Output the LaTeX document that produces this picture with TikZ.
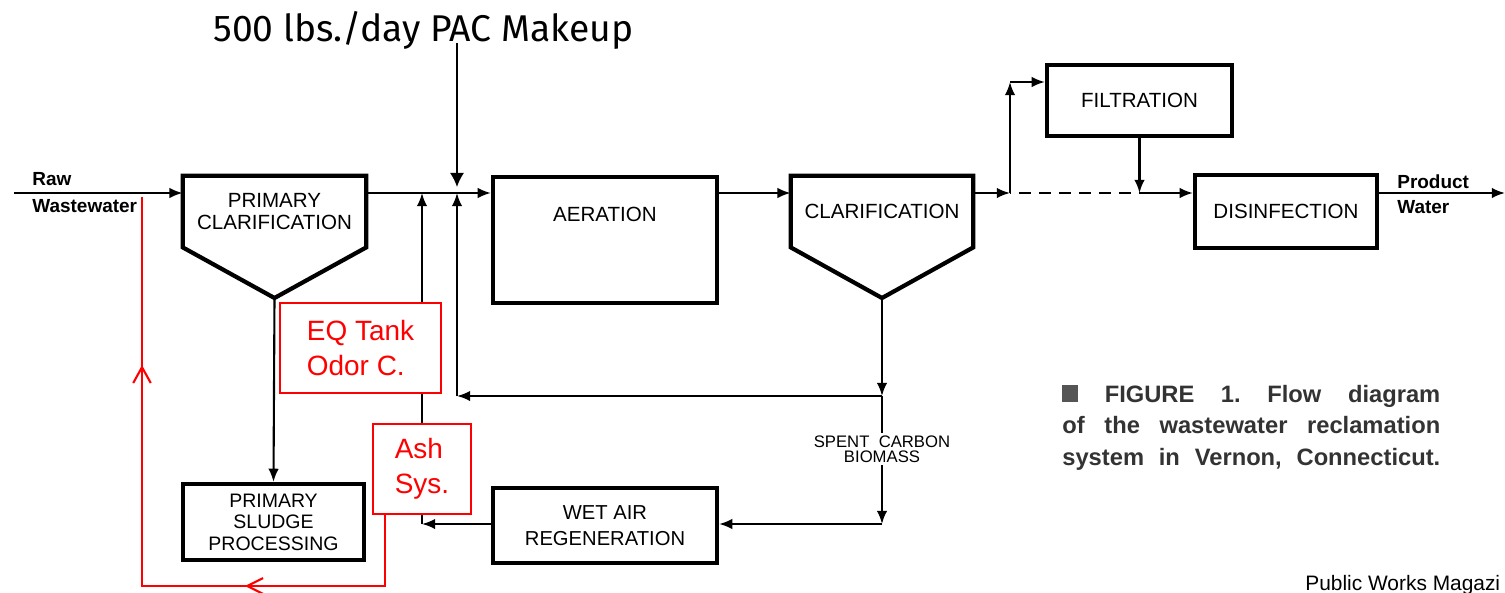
\documentclass[tikz,border=0pt]{standalone}
\usepackage{fontspec}
\setmainfont{Liberation Sans}
\newfontfamily\fira{Fira Sans}
\usetikzlibrary{arrows.meta,calc,decorations.markings}
\definecolor{capgray}{HTML}{333333}
\definecolor{sqgray}{HTML}{555555}
\frenchspacing
\begin{document}
\begin{tikzpicture}[x=0.02cm,y=-0.02cm,
  box/.style={draw, line width=2.4pt, inner sep=0pt},
  shapeonly/.style={inner sep=0pt},
  lbl/.style={font=\fontsize{11.7}{13}\selectfont, align=center, inner sep=0pt},
  side/.style={font=\bfseries\fontsize{10.8}{12}\selectfont, inner sep=0pt},
  ln/.style={line width=1.2pt},
  flow/.style={ln, -{Latex[length=7.5pt,width=6pt]}},
  redbox/.style={draw=red, line width=1.2pt, fill=white, text=red,
    font=\fontsize{15.9}{19.9}\selectfont, align=left, inner sep=0pt},
  redln/.style={draw=red, line width=1.2pt},
  captxt/.style={font=\bfseries\fontsize{13.5}{16}\selectfont, text=capgray, inner sep=0pt, anchor=base west},
]
\useasboundingbox (0,0) rectangle (1505,592);
\clip (0,0) rectangle (1505,592);
\fill[white] (0,0) rectangle (1505,592);

\coordinate (m) at (0,193);

% process units
\node[shapeonly, lbl, minimum width=3.66cm, minimum height=1.42cm, font=\fontsize{11.7}{13}\selectfont] (pc) at (274.5,211.5) {PRIMARY\\CLARIFICATION};
\coordinate (pcb) at (274.5,298);
\draw[line width=2.4pt, line join=miter] (pc.north west) -- (pc.north east) -- (pc.south east) -- (pcb) -- (pc.south west) -- cycle;

\node[box, minimum width=4.48cm, minimum height=2.52cm] (aer) at (605,240) {};
\node[lbl] (aerlbl) at (605,214) {AERATION};

\node[shapeonly, lbl, minimum width=3.64cm, minimum height=1.42cm] (cl) at (882,211.5) {CLARIFICATION};
\coordinate (clb) at (882,298);
\draw[line width=2.4pt, line join=miter] (cl.north west) -- (cl.north east) -- (cl.south east) -- (clb) -- (cl.south west) -- cycle;

\node[box, lbl, minimum width=3.7cm, minimum height=1.42cm] (filt) at (1139.5,100.5) {FILTRATION};
\node[box, lbl, minimum width=3.64cm, minimum height=1.46cm] (dis) at (1286,211.5) {DISINFECTION};
\node[box, lbl, minimum width=3.62cm, minimum height=1.52cm, font=\fontsize{11.1}{12.2}\selectfont] (psp) at (273.5,522) {PRIMARY\\SLUDGE\\PROCESSING};
\node[box, lbl, minimum width=4.48cm, minimum height=1.5cm, font=\fontsize{11.5}{14.8}\selectfont] (wet) at (605,525.5) {WET AIR\\REGENERATION};

% side labels
\node[side, anchor=base west] (raw) at (32,185) {Raw};
\node[side, anchor=base west] (ww) at (32,212) {Wastewater};
\node[side, anchor=base west] (prod) at (1397,188) {Product};
\node[side, anchor=base west] (water) at (1397,213) {Water};

% main line
\coordinate (rawin) at (14,193);
\draw[flow] (rawin) -- (pc.west |- m);
\draw[flow] (pc.east |- m) -- (aer.west |- m);
\draw[flow] (aer.east |- m) -- (cl.west |- m);
\coordinate (split) at (1010,193);
\coordinate (fcorner) at (1010,82);
\coordinate (join) at (1139.5,193);
\coordinate (prodout) at (1505,193);
\draw[flow] (cl.east |- m) -- (split);
\draw[flow] (split) -- (fcorner);
\draw[flow] (fcorner) -- (filt.west |- fcorner);
\draw[ln, dash pattern=on 6.8pt off 4.6pt, dash phase=-5pt] (split) -- (join);
\draw[flow] (filt.south) -- (join);
\draw[flow] (join) -- (dis.west |- m);
\draw[flow] (dis.east |- m) -- (prodout);

% sludge and recycle lines
\draw[flow] (pcb) -- (psp.north);
\coordinate (r1) at (882,396);
\coordinate (r2) at (457,396);
\coordinate (inj2) at (457,193);
\coordinate (r3) at (882,524);
\coordinate (r4) at (422,524);
\coordinate (inj1) at (422,193);
\node[font=\fontsize{9.5}{8.6}\selectfont, align=center, fill=white, inner sep=1.5pt] (spent) at (882,449) {SPENT\ \ CARBON\\BIOMASS};
\draw[flow] (clb) -- (r1);
\draw[flow] (r1) -- (r2);
\draw[flow] (r2) -- (inj2);
\draw[ln] (r1) -- (spent.north);
\draw[flow] (spent.south) -- (r3);
\draw[flow] (r3) -- (wet.east |- r3);
\draw[flow] (wet.west |- r4) -- (r4);
\draw[flow] (r4) -- (inj1);

% PAC makeup
\node[anchor=base west, inner sep=0pt, font=\fira\fontsize{21.2}{25}\selectfont] (pac) at (213,41) {500 lbs./day PAC Makeup};
\coordinate (pactop) at (457,43);
\coordinate (pacin) at (457,187);
\draw[line width=1pt, -{Latex[length=8pt,width=8pt]}] (pactop) -- (pacin);

% red annotations
\coordinate (redtop) at (142,197);
\node[redbox, minimum width=3.22cm, minimum height=1.8cm] (eq) at (360.5,348) {EQ Tank\\Odor C.};
\node[redbox, minimum width=1.96cm, minimum height=1.8cm] (ash) at (422,469) {Ash\\Sys.};
\draw[redln, postaction={decorate}, decoration={markings,
    mark=at position 4.22cm with {\arrow{Straight Barb[length=9pt,width=9pt,line width=1.2pt]}},
    mark=at position 10.7cm with {\arrow{Straight Barb[length=9pt,width=10pt,line width=1.2pt]}}}]
  ([xshift=0.26cm]ash.south west) |- (142,586) -- (redtop);

% caption
\node[captxt] (cap1) at (1062,402) {\makebox[7.56cm][s]{\textcolor{sqgray}{\rule{9pt}{9.7pt}} FIGURE 1. Flow diagram}};
\node[captxt] (cap2) at (1062,433.5) {\makebox[7.56cm][s]{of the wastewater reclamation}};
\node[captxt] (cap3) at (1062,465) {\makebox[7.56cm][s]{system in Vernon, Connecticut.}};

\node[anchor=base west, inner sep=0pt, font=\fontsize{11.9}{13}\selectfont] (pwm) at (1305,590) {Public Works Magazi};
\end{tikzpicture}
\end{document}
